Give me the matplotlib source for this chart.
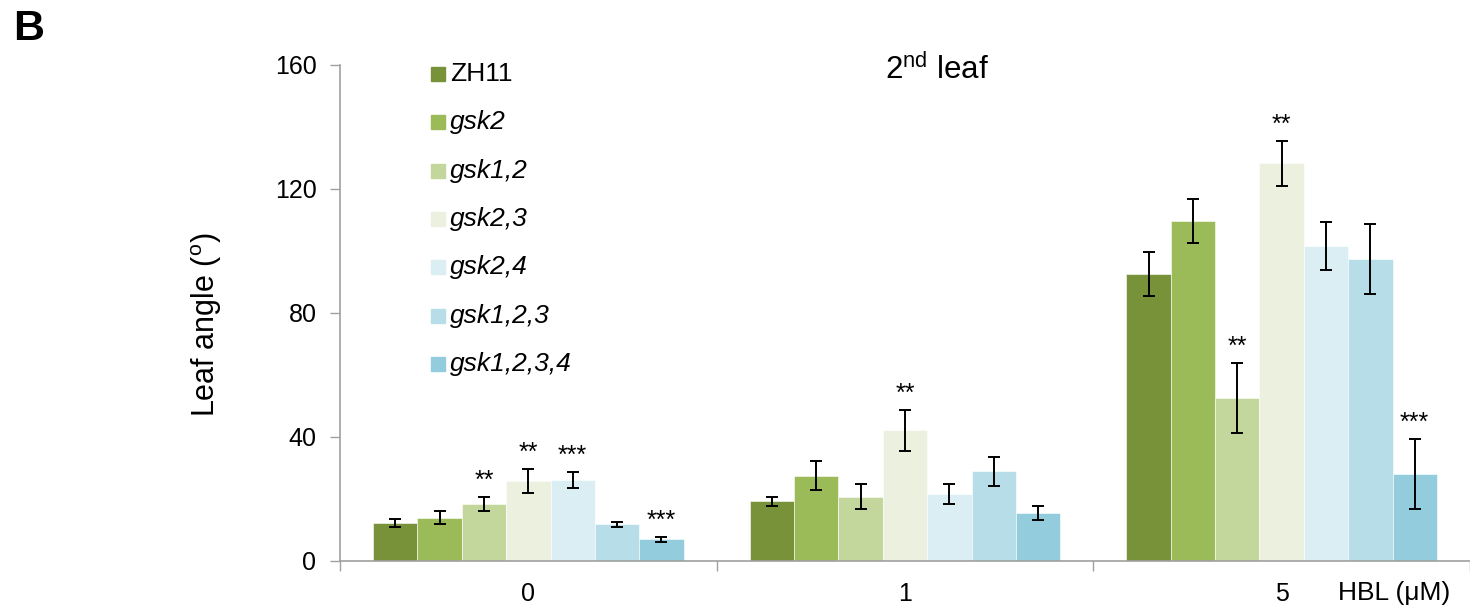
import matplotlib
matplotlib.use('Agg')
import matplotlib.pyplot as plt
from matplotlib.patches import Rectangle
import numpy as np

plt.rcParams['font.family'] = ['Liberation Sans', 'DejaVu Sans']
plt.rcParams['mathtext.fontset'] = 'custom'
plt.rcParams['mathtext.rm'] = 'Liberation Sans'
plt.rcParams['mathtext.it'] = 'Liberation Sans:italic'

# HBL concentrations (uM) and lines
doses = ['0', '1', '5']
lines = ['ZH11', 'gsk2', 'gsk1,2', 'gsk2,3', 'gsk2,4', 'gsk1,2,3', 'gsk1,2,3,4']
colors = ['#78923A', '#9BBB59', '#C3D69B', '#EBF1DE', '#DBEEF4', '#B7DEE8', '#93CDDD']

# mean leaf angle per line, one list per dose
angle_0 = [12.2, 13.9, 18.4, 25.9, 26.1, 11.9, 7.0]
angle_1 = [19.3, 27.5, 20.7, 42.2, 21.7, 28.9, 15.4]
angle_5 = [92.6, 109.7, 52.6, 128.3, 101.6, 97.4, 28.0]

err_0 = [1.3, 2.1, 2.3, 3.9, 2.7, 0.8, 0.8]
err_1 = [1.5, 4.7, 4.0, 6.6, 3.2, 4.8, 2.2]
err_5 = [7.1, 7.1, 11.4, 7.3, 7.7, 11.3, 11.3]

sig_0 = ['', '', '**', '**', '***', '', '***']
sig_1 = ['', '', '', '**', '', '', '']
sig_5 = ['', '', '**', '**', '', '', '***']

means = np.array([angle_0, angle_1, angle_5])
errs = np.array([err_0, err_1, err_5])
sigs = [sig_0, sig_1, sig_5]

fig = plt.figure(figsize=(14.7, 6.07), dpi=100)
ax = fig.add_axes([340 / 1470, 46 / 607, 1 - 340 / 1470, 496 / 607])

x = np.arange(len(doses))
w = 0.1177
for i, name in enumerate(lines):
    pos = x + (i - 3) * w
    ax.bar(pos, means[:, i], w, color=colors[i], edgecolor='white', linewidth=0.4, zorder=2)
    ax.errorbar(pos, means[:, i], yerr=errs[:, i], fmt='none', ecolor='black',
                elinewidth=1.4, capsize=4.4, capthick=1.4, zorder=3)
    for g in range(len(doses)):
        if sigs[g][i]:
            ax.annotate(sigs[g][i], (pos[g], means[g, i] + errs[g, i]),
                        xytext=(0, 3), textcoords='offset points',
                        ha='center', va='bottom', fontsize=18)

ax.set_ylim(0, 160)
ax.set_xlim(-0.5, -0.5 + 1130 / 378)
ax.set_yticks([0, 40, 80, 120, 160])

# group separators as major ticks, dose labels as minor ticks
ax.set_xticks([-0.5, 0.5, 1.5, 2.5])
ax.set_xticklabels([])
ax.set_xticks(x, minor=True)
ax.set_xticklabels(doses, minor=True)
ax.tick_params(axis='x', which='minor', length=0, pad=15, labelsize=18)
ax.tick_params(axis='x', which='major', length=7, width=1, color='#A0A0A0')
ax.tick_params(axis='y', length=7, width=1, color='#A0A0A0', pad=10, labelsize=18)

for s in ['top', 'right']:
    ax.spines[s].set_visible(False)
for s in ['left', 'bottom']:
    ax.spines[s].set_color('#A0A0A0')
    ax.spines[s].set_linewidth(1.2)

ax.set_ylabel(r'Leaf angle ($\mathregular{^{o}}$)', fontsize=22)
ax.yaxis.set_label_coords(-0.103, 0.476)

fig.text(937 / 1470, 1 - 70 / 607, r'2$\mathregular{^{nd}}$ leaf', ha='center', va='center', fontsize=22.5)
fig.text(1338 / 1470, (607 - 593) / 607, 'HBL (μM)', ha='left', va='center', fontsize=19)
fig.text(13 / 1470, 1 - 29 / 607, 'B', ha='left', va='center', fontsize=31, fontweight='bold')

# legend: colour squares with line names
for i, name in enumerate(lines):
    yc = 607 - (74 + i * 48.3)
    fig.patches.append(Rectangle((431 / 1470, (yc - 7) / 607), 14 / 1470, 14 / 607,
                                 transform=fig.transFigure, color=colors[i]))
    fig.text(450 / 1470, yc / 607, name, ha='left', va='center', fontsize=19,
             style='normal' if name == 'ZH11' else 'italic')

fig.savefig('out.png', dpi=100)
